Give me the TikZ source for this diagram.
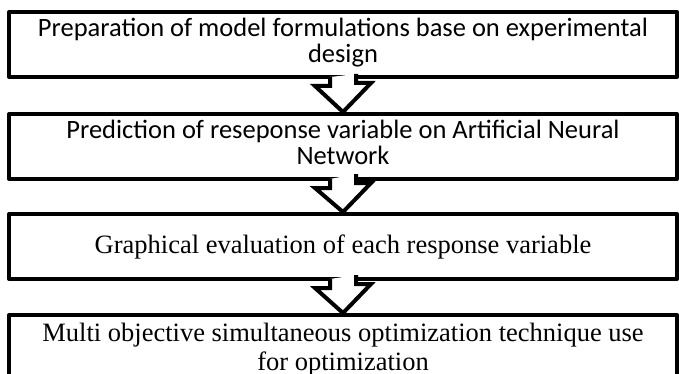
\documentclass[tikz,border=0pt]{standalone}
\usepackage{fontspec}
\setmainfont{Liberation Serif}
\newfontfamily\calibri{Carlito}
\usepackage{tikz}

\begin{document}
\begin{tikzpicture}[x=0.5pt,y=-0.5pt,
    stage/.style={draw, line width=2pt, line join=round, minimum width=334pt,
                  minimum height=32.5pt, inner sep=0pt, align=center},
    sanstext/.style={font=\calibri\fontsize{13.25}{13}\selectfont, text height=20pt, text depth=2pt},
    seriftext/.style={font=\fontsize{13.25}{14.5}\selectfont},
    flow/.style={draw, line width=2pt, fill=white, line join=miter}]
                        \clip (0,0) rectangle (679,374);
                        % Nodes
                        \node[stage, sanstext] (prep) at (343,44.5) {Preparation of model formulations base on experimental\\design};
                        \node[stage, sanstext] (pred) at (343,146.5) {Prediction of reseponse variable on Artificial Neural\\Network};
                        \node[stage, seriftext] (graph) at (343,246.5) {Graphical evaluation of each response variable};
                        \node[stage, seriftext, text height=24pt, text depth=1.5pt] (multi) at (343,347.5) {Multi objective simultaneous optimization technique use\\for optimization};

                        % Arrows
                        \draw[flow] ([xshift=-6.5pt,yshift=1pt]prep.south) -- ++(0,9) -- ++(-15,0) -- (pred.north) -- ++(28,-29) -- ++(-15,0) -- ++(0,-9);
                        \draw[flow] ([xshift=-6.5pt,yshift=1pt]pred.south) -- ++(0,9) -- ++(-15,0) -- (graph.north) -- ++(28,-29) -- ++(-15,0) -- ++(0,-9);
                        \draw[flow] ([xshift=-6.5pt,yshift=1pt]graph.south) -- ++(0,9) -- ++(-15,0) -- (multi.north) -- ++(28,-29) -- ++(-15,0) -- ++(0,-9);
                    \end{tikzpicture}
\end{document}
